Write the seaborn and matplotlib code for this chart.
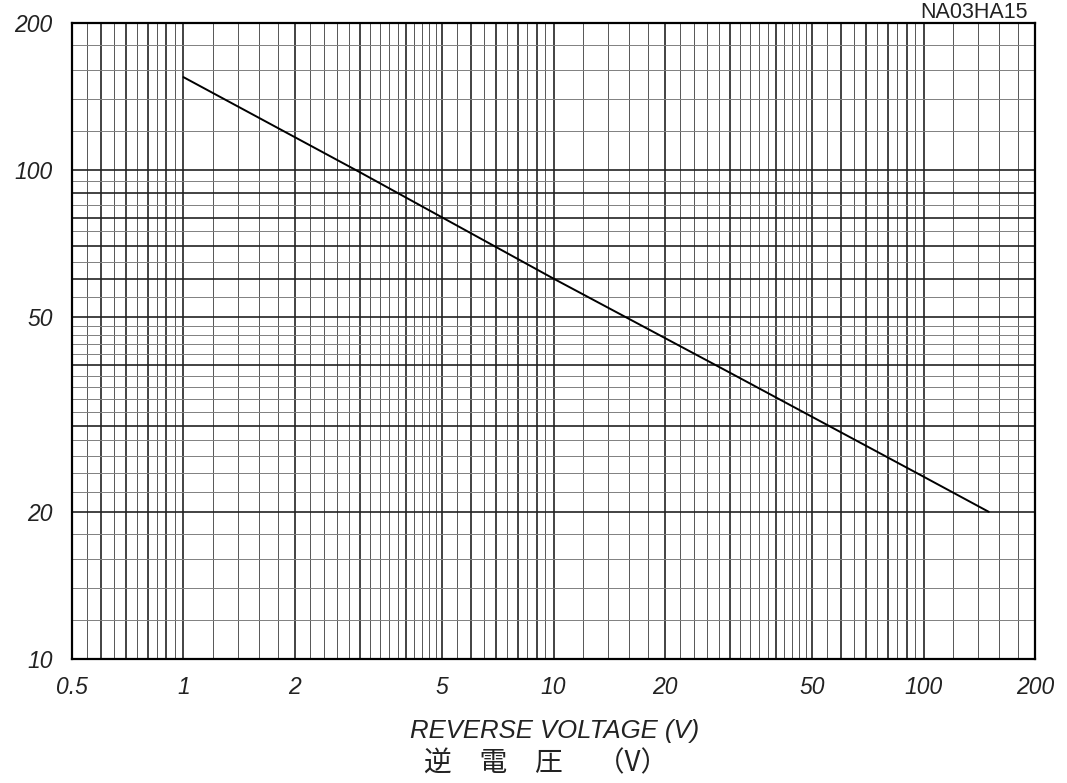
import seaborn as sns
import matplotlib.pyplot as plt
import numpy as np
import pandas as pd

# Data (log-log straight line)
voltage = [1, 3, 10, 30, 100, 150]
capacitance = [155, 99, 60, 38.5, 23.6, 20]

x_ticks = [0.5, 1, 2, 5, 10, 20, 50, 100, 200]
x_tick_labels = ['0.5', '1', '2', '5', '10', '20', '50', '100', '200']
y_ticks = [10, 20, 50, 100, 200]
y_tick_labels = ['10', '20', '50', '100', '200']

df = pd.DataFrame({'voltage': voltage, 'capacitance': capacitance})

sns.set_style('white')
plt.rcParams['font.family'] = ['Liberation Sans', 'DejaVu Sans']


def paper_lines(lo, hi):
    # log paper: majors at 1..9 per decade, minors at 0.2 steps (1-5) and 0.5 steps (5-10)
    major, minor = [], []
    for e in range(-1, 3):
        d = 10.0 ** e
        for k in range(1, 10):
            major.append(k * d)
            steps = [0.2, 0.4, 0.6, 0.8] if k < 5 else [0.5]
            for s in steps:
                minor.append((k + s) * d)
    keep = lambda v: [round(t, 6) for t in v if lo - 1e-9 <= t <= hi + 1e-9]
    return keep(major), keep(minor)


fig = plt.figure(figsize=(10.67, 7.83), dpi=100)
ax = fig.add_axes([0.0675, 0.1584, 0.9025, 0.8122])

sns.lineplot(x='voltage', y='capacitance', data=df, color='black', linewidth=1.4, ax=ax)

ax.set_xscale('log')
ax.set_yscale('log')
ax.set_xlim(0.5, 200)
ax.set_ylim(10, 200)

# Grid lines
xmaj, xmin = paper_lines(0.5, 200)
ymaj, ymin = paper_lines(10, 200)
for v in xmaj:
    ax.axvline(v, color='#222222', linewidth=1.2, zorder=1)
for v in xmin:
    ax.axvline(v, color='#555555', linewidth=0.7, zorder=1)
for v in ymaj:
    ax.axhline(v, color='#222222', linewidth=1.2, zorder=1)
for v in ymin:
    ax.axhline(v, color='#808080', linewidth=0.7, zorder=1)

ax.xaxis.set_minor_locator(plt.NullLocator())
ax.yaxis.set_minor_locator(plt.NullLocator())
ax.set_xticks(x_ticks)
ax.set_xticklabels(x_tick_labels, fontstyle='italic', fontsize=16.5, color='#222222')
ax.set_yticks(y_ticks)
ax.set_yticklabels(y_tick_labels, fontstyle='italic', fontsize=16.5, color='#222222')
ax.tick_params(axis='x', length=0, pad=12)
ax.tick_params(axis='y', length=0, pad=14)

for sp in ax.spines.values():
    sp.set_color('black')
    sp.set_linewidth(1.6)
    sp.set_visible(True)

ax.set_xlabel('')
ax.set_ylabel('')

fig.text(0.520, 0.0664, 'REVERSE VOLTAGE (V)', ha='center', va='center',
         fontsize=18.5, fontstyle='italic', color='#222222')
fig.text(0.512, 0.025, '逆　電　圧　 （V）', ha='center', va='center',
         fontsize=20, color='#222222', family=['Noto Sans CJK JP', 'DejaVu Sans'])
fig.text(0.963, 0.998, 'NA03HA15', ha='right', va='top',
         fontsize=15.5, color='#222222')

plt.savefig('out.png', dpi=100)
